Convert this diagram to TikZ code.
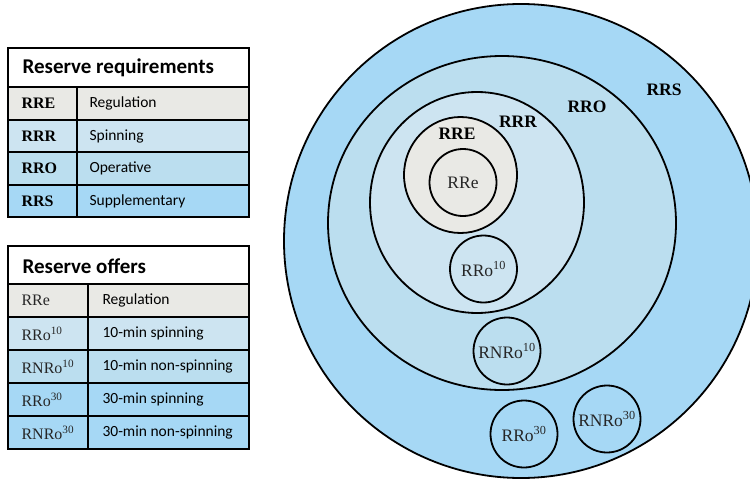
\documentclass[tikz,border=0pt]{standalone}
\usepackage{fontspec}
\setmainfont{Liberation Serif}
\newfontfamily\tabfont{Carlito}
\usepackage{xcolor}
\usetikzlibrary{positioning,shapes.geometric}

\definecolor{colRRE}{HTML}{E9E9E5}
\definecolor{colRRR}{HTML}{CDE4F1}
\definecolor{colRRO}{HTML}{BBDEEF}
\definecolor{colRRS}{HTML}{A6D8F5}
\definecolor{txtgray}{HTML}{262626}

\tikzset{
  zone/.style={ellipse,draw,line width=1.8pt,inner sep=0pt},
  offer/.style={circle,draw,line width=1.8pt,inner sep=0pt,minimum size=67pt,
    text=txtgray,font=\fontsize{17.5}{17.5}\selectfont},
  zonelabel/.style={font=\fontsize{17.5}{17.5}\selectfont\bfseries},
  rowbox/.style={draw,line width=1.6pt},
  headtext/.style={anchor=west,font=\tabfont\fontsize{21}{21}\selectfont\bfseries},
  desctext/.style={anchor=west,font=\tabfont\fontsize{15.5}{15.5}\selectfont},
  keytext/.style={anchor=west,font=\fontsize{16}{16}\selectfont\bfseries},
  offertext/.style={anchor=west,text=txtgray,font=\fontsize{16}{16}\selectfont},
}

\begin{document}
\begin{tikzpicture}[x=1pt,y=-1pt]
  \useasboundingbox (0,0) rectangle (750,482);
  \clip (0,0) rectangle (750,482);

  % requirements table
  \draw[rowbox,fill=white] (8,48) rectangle (249,87);
  \node[headtext] (reqhead) at (19,68) {Reserve requirements};
  \foreach \ya/\yb/\col/\key/\desc in {87/120/colRRE/RRE/Regulation,
      120/152/colRRR/RRR/Spinning, 152/185/colRRO/RRO/Operative,
      185/217/colRRS/RRS/Supplementary} {
    \draw[rowbox,fill=\col] (8,\ya) rectangle (249,\yb);
    \draw[rowbox] (77,\ya) -- (77,\yb);
    \node[keytext] (req\key) at (18,{(\ya+\yb)/2}) {\key};
    \node[desctext] (reqdesc\key) at (86,{(\ya+\yb)/2}) {\desc};
  }

  % offers table
  \draw[rowbox,fill=white] (8,246) rectangle (249,284);
  \node[headtext] (offhead) at (19,266) {Reserve offers};
  \foreach \ya/\yb/\col/\key/\desc in {284/317/colRRE/RRe/Regulation,
      317/350/colRRR/RRo\textsuperscript{10}/10-min spinning,
      350/383/colRRO/RNRo\textsuperscript{10}/10-min non-spinning,
      383/416/colRRS/RRo\textsuperscript{30}/30-min spinning,
      416/449/colRRS/RNRo\textsuperscript{30}/30-min non-spinning} {
    \draw[rowbox,fill=\col] (8,\ya) rectangle (249,\yb);
    \draw[rowbox] (88,\ya) -- (88,\yb);
    \node[offertext] at (18,{(\ya+\yb)/2}) {\key};
    \node[desctext] at (99,{(\ya+\yb)/2}) {\desc};
  }

  % nested requirement sets
  \node[zone,fill=colRRS,minimum width=474pt,minimum height=474pt] (RRS) at (521,241) {};
  \node[zone,fill=colRRO,minimum width=348pt,minimum height=334pt] (RRO) at (502,223) {};
  \node[zone,fill=colRRR,minimum width=214pt,minimum height=221pt] (RRR) at (477,202.5) {};
  \node[zone,fill=colRRE,minimum width=113pt,minimum height=116pt] (RRE) at (460.5,175) {};
  \node[zonelabel] (labRRS) at (664,90) {RRS};
  \node[zonelabel] (labRRO) at (587,107) {RRO};
  \node[zonelabel] (labRRR) at (518,122) {RRR};
  \node[zonelabel] (labRRE) at (457,134) {RRE};

  % offers
  \node[offer,minimum size=67pt] (RRe) at (463,182.5) {RRe};
  \node[offer] (RRo10) at (483.5,269) {RRo\textsuperscript{10}};
  \node[offer] (RNRo10) at (507,351) {RNRo\textsuperscript{10}};
  \node[offer] (RRo30) at (524,434) {RRo\textsuperscript{30}};
  \node[offer] (RNRo30) at (607,419) {RNRo\textsuperscript{30}};
\end{tikzpicture}
\end{document}
